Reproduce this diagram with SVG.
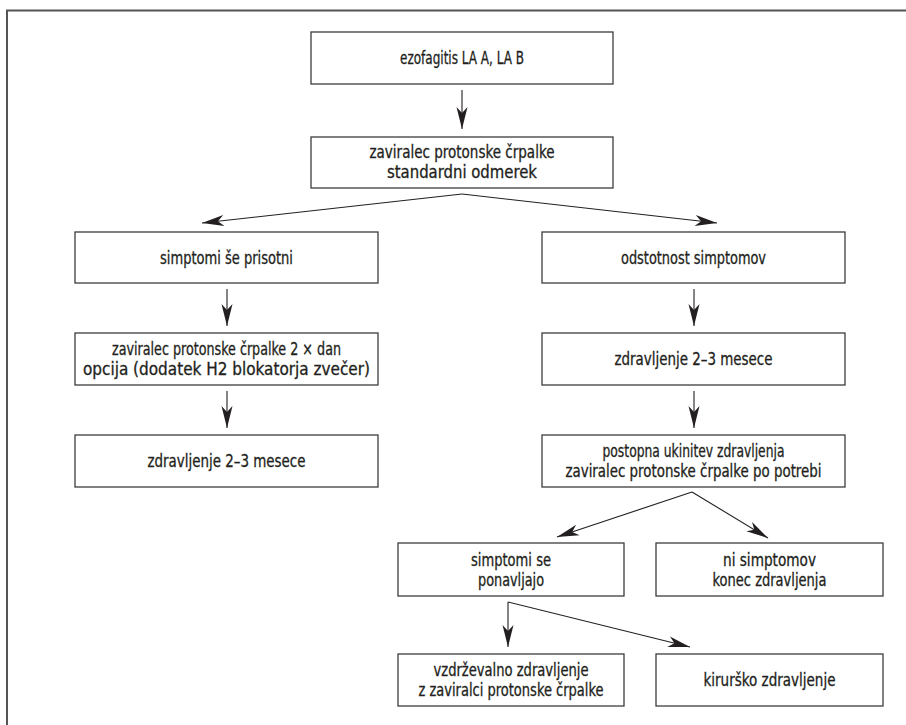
<svg xmlns="http://www.w3.org/2000/svg" width="906" height="725" viewBox="0 0 906 725">
<defs>
<style>
.frame{fill:none;stroke:#555;stroke-width:2}
.box{fill:#fff;stroke:#3c3c3c;stroke-width:1.3}
.lbl{font-family:"Liberation Sans Narrow","DejaVu Sans Condensed","DejaVu Sans",sans-serif;font-stretch:condensed;font-size:17.5px;fill:#231f20;stroke:#231f20;stroke-width:0.3;text-anchor:middle}
.con{fill:none;stroke:#231f20;stroke-width:1.1}
</style>
<marker id="ah" viewBox="-23 -7 24 14" refX="0" refY="0" markerWidth="24" markerHeight="14" markerUnits="userSpaceOnUse" orient="auto">
<path d="M0,0 L-22,-5.5 L-16,0 L-22,5.5 Z" fill="#231f20"/>
</marker>
</defs>
<rect width="906" height="725" fill="#fff"/>
<path class="frame" d="M7,725 L7,10.5 L906,10.5"/>
<g id="connectors">
<line class="con" x1="462" y1="90" x2="462" y2="129" marker-end="url(#ah)"/>
<line class="con" x1="462" y1="194" x2="202" y2="223" marker-end="url(#ah)"/>
<line class="con" x1="462" y1="194" x2="717" y2="223" marker-end="url(#ah)"/>
<line class="con" x1="227" y1="289" x2="227" y2="326" marker-end="url(#ah)"/>
<line class="con" x1="694" y1="289" x2="694" y2="326" marker-end="url(#ah)"/>
<line class="con" x1="227" y1="391" x2="227" y2="428" marker-end="url(#ah)"/>
<line class="con" x1="694" y1="391" x2="694" y2="428" marker-end="url(#ah)"/>
<line class="con" x1="692" y1="492" x2="557" y2="537" marker-end="url(#ah)"/>
<line class="con" x1="692" y1="492" x2="768" y2="538" marker-end="url(#ah)"/>
<line class="con" x1="508" y1="602" x2="508" y2="647" marker-end="url(#ah)"/>
<line class="con" x1="508" y1="602" x2="690" y2="647" marker-end="url(#ah)"/>
</g>
<g id="n1"><rect class="box" x="311" y="32" width="302" height="52"/><text class="lbl" x="462" y="64" textLength="124" lengthAdjust="spacingAndGlyphs">ezofagitis LA A, LA B</text></g>
<g id="n2"><rect class="box" x="311" y="137" width="302" height="51"/><text class="lbl" x="462" y="158" textLength="185" lengthAdjust="spacingAndGlyphs">zaviralec protonske črpalke</text><text class="lbl" x="462" y="178" textLength="150" lengthAdjust="spacingAndGlyphs">standardni odmerek</text></g>
<g id="n3"><rect class="box" x="75" y="232" width="303" height="51"/><text class="lbl" x="226.5" y="264" textLength="133" lengthAdjust="spacingAndGlyphs">simptomi še prisotni</text></g>
<g id="n4"><rect class="box" x="542" y="232" width="303" height="51"/><text class="lbl" x="693.5" y="264" textLength="145" lengthAdjust="spacingAndGlyphs">odstotnost simptomov</text></g>
<g id="n5"><rect class="box" x="75" y="333" width="303" height="52"/><text class="lbl" x="226.5" y="355" textLength="229" lengthAdjust="spacingAndGlyphs">zaviralec protonske črpalke 2 × dan</text><text class="lbl" x="226.5" y="375" textLength="287" lengthAdjust="spacingAndGlyphs">opcija (dodatek H2 blokatorja zvečer)</text></g>
<g id="n6"><rect class="box" x="542" y="333" width="303" height="52"/><text class="lbl" x="693.5" y="365" textLength="158" lengthAdjust="spacingAndGlyphs">zdravljenje 2–3 mesece</text></g>
<g id="n7"><rect class="box" x="75" y="435" width="303" height="52"/><text class="lbl" x="226.5" y="467" textLength="158" lengthAdjust="spacingAndGlyphs">zdravljenje 2–3 mesece</text></g>
<g id="n8"><rect class="box" x="542" y="435" width="303" height="52"/><text class="lbl" x="693.5" y="457" textLength="182" lengthAdjust="spacingAndGlyphs">postopna ukinitev zdravljenja</text><text class="lbl" x="693.5" y="477" textLength="256" lengthAdjust="spacingAndGlyphs">zaviralec protonske črpalke po potrebi</text></g>
<g id="n9"><rect class="box" x="398" y="543" width="226" height="53"/><text class="lbl" x="511" y="566" textLength="80" lengthAdjust="spacingAndGlyphs">simptomi se</text><text class="lbl" x="511" y="586" textLength="66" lengthAdjust="spacingAndGlyphs">ponavljajo</text></g>
<g id="n10"><rect class="box" x="656" y="543" width="227" height="53"/><text class="lbl" x="769.5" y="566" textLength="93" lengthAdjust="spacingAndGlyphs">ni simptomov</text><text class="lbl" x="769.5" y="586" textLength="114" lengthAdjust="spacingAndGlyphs">konec zdravljenja</text></g>
<g id="n11"><rect class="box" x="398" y="654" width="226" height="52"/><text class="lbl" x="511" y="676" textLength="155" lengthAdjust="spacingAndGlyphs">vzdrževalno zdravljenje</text><text class="lbl" x="511" y="696" textLength="185" lengthAdjust="spacingAndGlyphs">z zaviralci protonske črpalke</text></g>
<g id="n12"><rect class="box" x="656" y="654" width="227" height="52"/><text class="lbl" x="769.5" y="686" textLength="132" lengthAdjust="spacingAndGlyphs">kirurško zdravljenje</text></g>
</svg>
